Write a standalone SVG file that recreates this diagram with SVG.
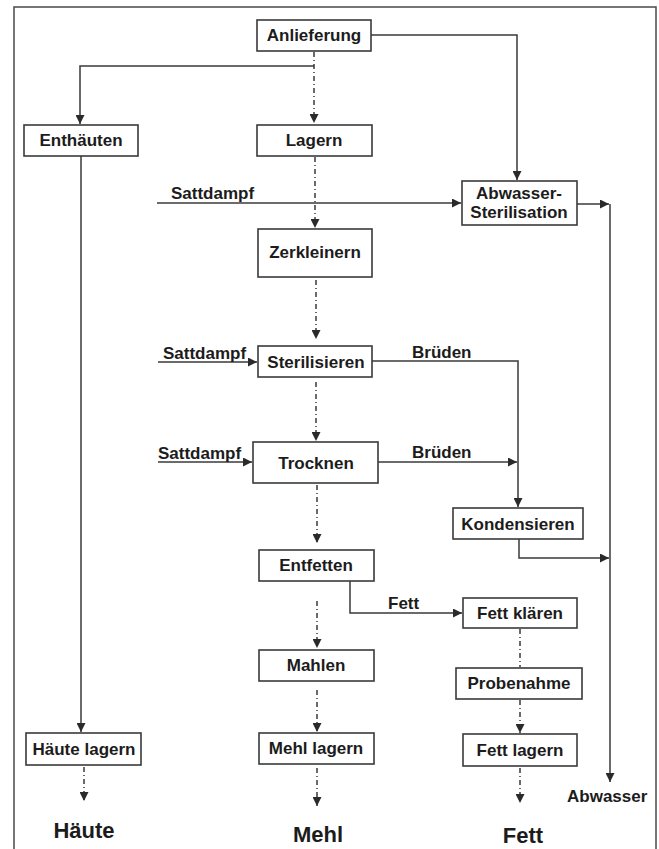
<svg xmlns="http://www.w3.org/2000/svg" width="659" height="849" viewBox="0 0 659 849">
<defs>
<marker id="ah" viewBox="0 0 10 10" refX="10" refY="5" markerWidth="10" markerHeight="9" markerUnits="userSpaceOnUse" orient="auto">
<path d="M0,0 L10,5 L0,10 Z" fill="#2a2a2a"/>
</marker>
<style>
.box{fill:#fff;stroke:#3a3a3a;stroke-width:1.6}
.t{font-family:"Liberation Sans",Arial,sans-serif;font-weight:bold;font-size:17px;fill:#1c1c1c;text-anchor:middle}
.tl{font-family:"Liberation Sans",Arial,sans-serif;font-weight:bold;font-size:17px;fill:#1c1c1c}
.big{font-family:"Liberation Sans",Arial,sans-serif;font-weight:bold;font-size:22px;fill:#1c1c1c;text-anchor:middle}
.s{fill:none;stroke:#3a3a3a;stroke-width:1.5}
.d{fill:none;stroke:#3a3a3a;stroke-width:1.5;stroke-dasharray:5 3 1 3}
</style>
</defs>
<rect width="659" height="849" fill="#fff"/>
<path d="M14,849 V7 H656 V849" fill="none" stroke="#4a4a4a" stroke-width="1.5"/>

<g id="connectors">
<!-- Anlieferung -> Lagern -->
<path class="d" d="M314,52 V123" marker-end="url(#ah)"/>
<!-- branch to Enthäuten -->
<path class="s" d="M314,66 H80 V124" marker-end="url(#ah)"/>
<!-- Anlieferung -> Abwasser-Sterilisation -->
<path class="s" d="M371,35 H517 V180" marker-end="url(#ah)"/>
<!-- Sattdampf -> Abwasser-Sterilisation -->
<path class="s" d="M157,203 H461" marker-end="url(#ah)"/>
<!-- Lagern -> Zerkleinern -->
<path class="d" d="M315,157 V228" marker-end="url(#ah)"/>
<!-- Abwasser-Sterilisation -> Abwasser -->
<path class="s" d="M577,204 H609" marker-end="url(#ah)"/>
<path class="s" d="M610,204 V782" marker-end="url(#ah)"/>
<!-- Zerkleinern -> Sterilisieren -->
<path class="d" d="M316,280 V339" marker-end="url(#ah)"/>
<!-- Sattdampf -> Sterilisieren -->
<path class="s" d="M158,362 H257" marker-end="url(#ah)"/>
<!-- Sterilisieren Brüden -> Kondensieren -->
<path class="s" d="M372,361 H518 V507" marker-end="url(#ah)"/>
<!-- Sterilisieren -> Trocknen -->
<path class="d" d="M316,382 V441" marker-end="url(#ah)"/>
<!-- Sattdampf -> Trocknen -->
<path class="s" d="M158,462 H252" marker-end="url(#ah)"/>
<!-- Trocknen Brüden -->
<path class="s" d="M378,462 H517" marker-end="url(#ah)"/>
<!-- Trocknen -> Entfetten -->
<path class="d" d="M317,485 V543" marker-end="url(#ah)"/>
<!-- Kondensieren -> Abwasser line -->
<path class="s" d="M519,539 V558 H609" marker-end="url(#ah)"/>
<!-- Entfetten Fett -> Fett klären -->
<path class="s" d="M350,581 V613 H462" marker-end="url(#ah)"/>
<!-- Entfetten -> Mahlen -->
<path class="d" d="M317,601 V648" marker-end="url(#ah)"/>
<!-- Mahlen -> Mehl lagern -->
<path class="d" d="M317,690 V732" marker-end="url(#ah)"/>
<!-- Mehl lagern -> Mehl -->
<path class="d" d="M317,768 V806" marker-end="url(#ah)"/>
<!-- Fett klären -> Probenahme -->
<path class="d" d="M520,629 V667"/>
<!-- Probenahme -> Fett lagern -->
<path class="d" d="M520,700 V733" marker-end="url(#ah)"/>
<!-- Fett lagern -> Fett -->
<path class="d" d="M520,768 V803" marker-end="url(#ah)"/>
<!-- Enthäuten -> Häute lagern -->
<path class="s" d="M81,156 V732" marker-end="url(#ah)"/>
<!-- Häute lagern -> Häute -->
<path class="d" d="M84,767 V801" marker-end="url(#ah)"/>
</g>

<g id="labels">
<text class="tl" x="171" y="199">Sattdampf</text>
<text class="tl" x="163" y="359">Sattdampf</text>
<text class="tl" x="158" y="459">Sattdampf</text>
<text class="tl" x="412" y="358">Brüden</text>
<text class="tl" x="412" y="458">Brüden</text>
<text class="tl" x="388" y="609">Fett</text>
<text class="tl" x="567" y="802">Abwasser</text>
<text class="big" x="84" y="838">Häute</text>
<text class="big" x="318" y="842">Mehl</text>
<text class="big" x="523" y="843">Fett</text>
</g>

<g id="anlieferung"><rect class="box" x="257" y="20" width="114" height="31"/><text class="t" x="314" y="41">Anlieferung</text></g>
<g id="enthaeuten"><rect class="box" x="24" y="125" width="114" height="31"/><text class="t" x="81" y="146">Enthäuten</text></g>
<g id="lagern"><rect class="box" x="257" y="125" width="115" height="31"/><text class="t" x="314" y="146">Lagern</text></g>
<g id="abwasser-sterilisation"><rect class="box" x="462" y="181" width="115" height="44"/><text class="t" x="519" y="199">Abwasser-</text><text class="t" x="519" y="218">Sterilisation</text></g>
<g id="zerkleinern"><rect class="box" x="258" y="229" width="114" height="48"/><text class="t" x="315" y="258">Zerkleinern</text></g>
<g id="sterilisieren"><rect class="box" x="258" y="346" width="114" height="31"/><text class="t" x="316" y="368">Sterilisieren</text></g>
<g id="trocknen"><rect class="box" x="253" y="442" width="125" height="41"/><text class="t" x="316" y="469">Trocknen</text></g>
<g id="kondensieren"><rect class="box" x="453" y="508" width="130" height="31"/><text class="t" x="518" y="530">Kondensieren</text></g>
<g id="entfetten"><rect class="box" x="259" y="550" width="115" height="31"/><text class="t" x="316" y="571">Entfetten</text></g>
<g id="fett-klaeren"><rect class="box" x="463" y="598" width="114" height="30"/><text class="t" x="520" y="619">Fett klären</text></g>
<g id="mahlen"><rect class="box" x="259" y="650" width="115" height="31"/><text class="t" x="316" y="671">Mahlen</text></g>
<g id="probenahme"><rect class="box" x="456" y="668" width="126" height="31"/><text class="t" x="519" y="689">Probenahme</text></g>
<g id="haeute-lagern"><rect class="box" x="26" y="733" width="115" height="32"/><text class="t" x="84" y="755">Häute lagern</text></g>
<g id="mehl-lagern"><rect class="box" x="259" y="733" width="115" height="31"/><text class="t" x="316" y="754">Mehl lagern</text></g>
<g id="fett-lagern"><rect class="box" x="463" y="734" width="114" height="32"/><text class="t" x="520" y="756">Fett lagern</text></g>
</svg>
